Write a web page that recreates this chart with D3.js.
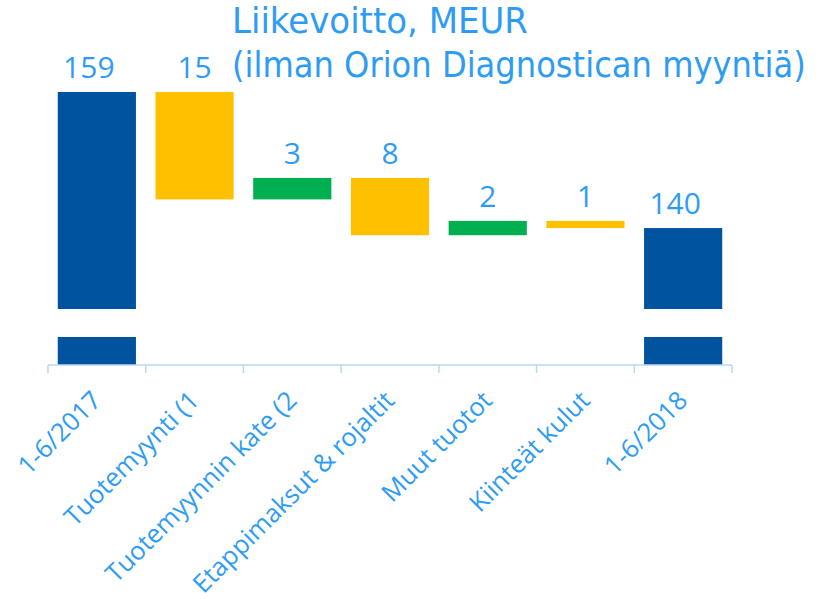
<!DOCTYPE html>
<html lang="fi">
<head>
    <meta charset="UTF-8">
    <title>Liikevoitto, MEUR</title>
    <script src="https://d3js.org/d3.v7.min.js"></script>
    <style>
        body { margin: 0; background: #fff; }
    </style>
</head>
<body>
    <script>
        const categories = ["1-6/2017", "Tuotemyynti (1", "Tuotemyynnin kate (2", "Etappimaksut & rojaltit",
                            "Muut tuotot", "Kiinteät kulut", "1-6/2018"];
        const changes = [159, -15, 3, -8, 2, -1, 140];
        const kinds = ["total", "change", "change", "change", "change", "change", "total"];
        const titleLines = ["Liikevoitto, MEUR", "(ilman Orion Diagnostican myyntiä)"];

        const width = 836;
        const height = 599;
        const colors = { total: "#00539f", up: "#00b050", down: "#ffc000" };
        const textColor = "#2e9cf5";

        // running totals for the waterfall
        let running = 0;
        const bars = categories.map((c, i) => {
            let from, to;
            if (kinds[i] === "total") { from = 0; to = changes[i]; running = changes[i]; }
            else { from = running; to = running + changes[i]; running = to; }
            return { cat: c, from: from, to: to, kind: kinds[i], value: changes[i] };
        });

        const x = d3.scaleBand().domain(categories)
            .range([48, 732])
            .paddingInner(0.2).paddingOuter(0.1);

        // broken axis: short stub near zero, then the upper part
        const stubTop = 4, breakVal = 128.7;
        const y = d3.scaleLinear()
            .domain([0, stubTop, breakVal, 160])
            .range([365, 337, 309, 84.8]);

        const svg = d3.select("body").append("svg")
            .attr("width", width)
            .attr("height", height);

        // title: tall, narrow lettering -> squeeze horizontally to the reference widths
        const titleWidths = [296, 574];
        svg.selectAll("text.title").data(titleLines).enter().append("text")
            .attr("class", "title")
            .attr("font-family", "DejaVu Sans, sans-serif")
            .attr("font-size", 35)
            .attr("fill", textColor)
            .text(d => d)
            .each(function(d, i) {
                const w = this.getComputedTextLength();
                d3.select(this).attr("transform",
                    `translate(232,${33 + i * 44}) scale(${titleWidths[i] / w},1)`);
            });

        // bar segments
        const segs = [];
        bars.forEach(b => {
            if (b.kind === "total") {
                segs.push({ cat: b.cat, lo: 0, hi: stubTop, fill: colors.total });
                segs.push({ cat: b.cat, lo: breakVal, hi: b.to, fill: colors.total });
            } else {
                segs.push({ cat: b.cat, lo: Math.min(b.from, b.to), hi: Math.max(b.from, b.to),
                            fill: b.value < 0 ? colors.down : colors.up });
            }
        });

        svg.selectAll("rect.bar").data(segs).enter().append("rect")
            .attr("class", "bar")
            .attr("x", d => x(d.cat))
            .attr("width", x.bandwidth())
            .attr("y", d => y(d.hi))
            .attr("height", d => y(d.lo) - y(d.hi))
            .attr("fill", d => d.fill);

        // value labels
        svg.selectAll("text.val").data(bars).enter().append("text")
            .attr("class", "val")
            .attr("x", d => x(d.cat) + x.bandwidth() / 2 + (d.kind === "total" ? -8 : 0))
            .attr("y", d => y(Math.max(d.from, d.to)) - 14)
            .attr("text-anchor", "middle")
            .attr("font-family", "Open Sans, sans-serif")
            .attr("font-size", 30)
            .attr("fill", textColor)
            .text(d => Math.abs(d.value));

        // axis line and ticks at band edges
        const axisY = 365;
        const tickX = d3.range(categories.length + 1).map(i => x.range()[0] + i * x.step());
        svg.append("line")
            .attr("x1", tickX[0]).attr("x2", tickX[tickX.length - 1])
            .attr("y1", axisY).attr("y2", axisY)
            .attr("stroke", "#b8d9f7").attr("stroke-width", 1.5);
        svg.selectAll("line.tick").data(tickX).enter().append("line")
            .attr("class", "tick")
            .attr("x1", d => d).attr("x2", d => d)
            .attr("y1", axisY).attr("y2", axisY + 8)
            .attr("stroke", "#b8d9f7").attr("stroke-width", 1.5);

        // rotated category labels
        svg.selectAll("text.cat").data(categories).enter().append("text")
            .attr("class", "cat")
            .attr("transform", d => `translate(${x(d) + x.bandwidth() / 2 + 6},${axisY + 37}) rotate(-45)`)
            .attr("text-anchor", "end")
            .attr("font-family", "Open Sans, sans-serif")
            .attr("font-size", 25.5)
            .attr("fill", textColor)
            .text(d => d);
    </script>
</body>
</html>
